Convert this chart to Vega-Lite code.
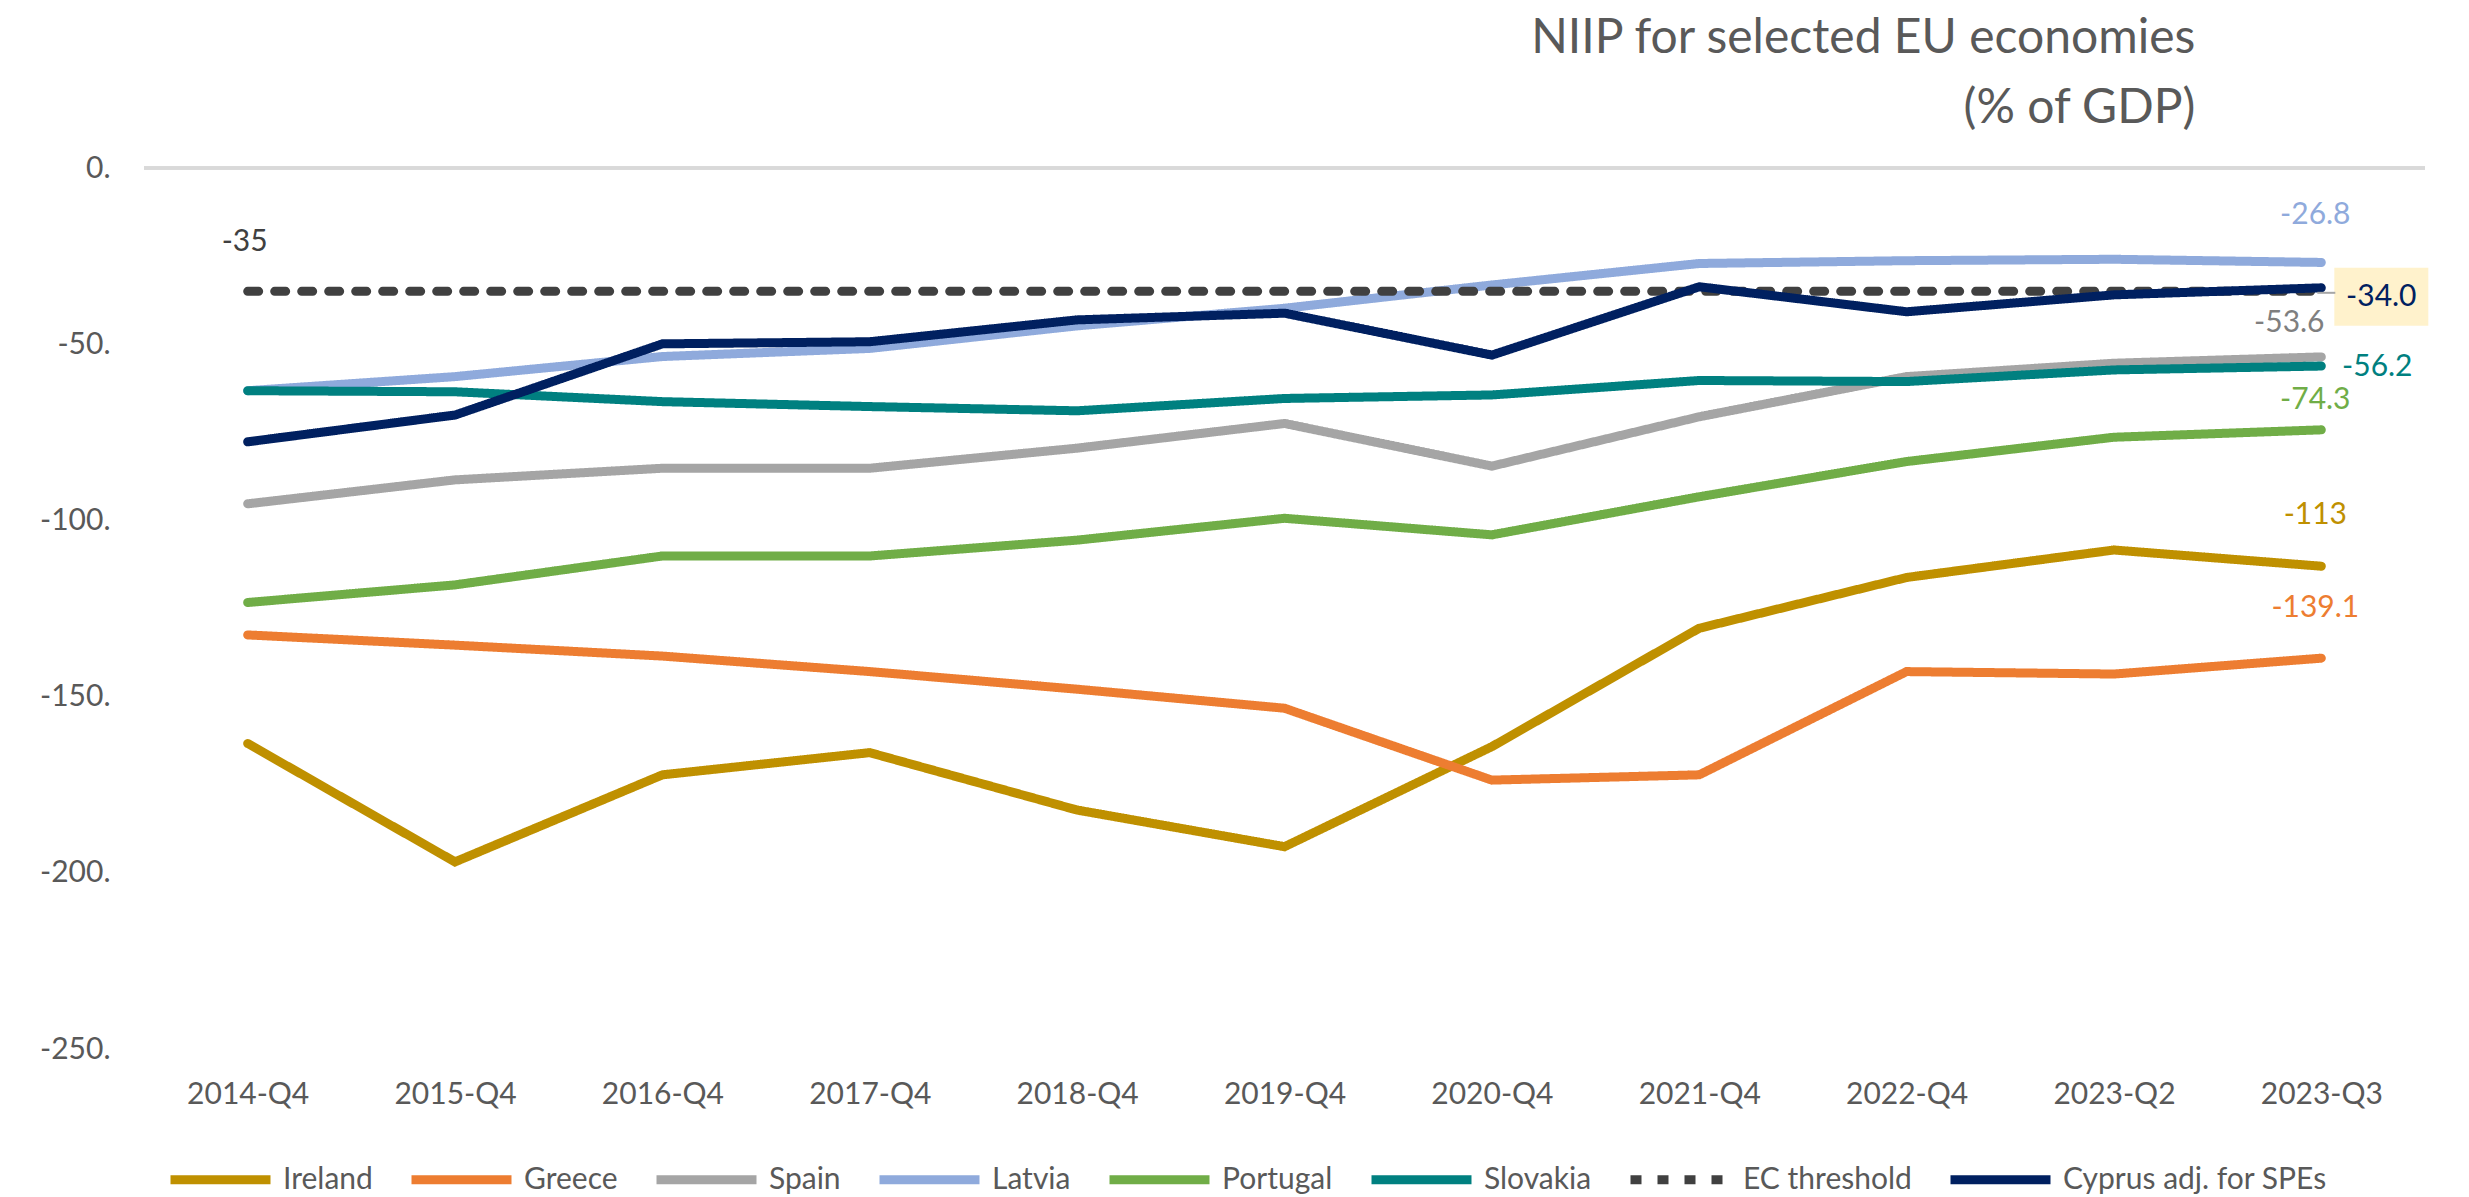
{
  "$schema": "https://vega.github.io/schema/vega-lite/v6.json",
  "width": 2281,
  "height": 881,
  "autosize": {"type": "none"},
  "padding": {"left": 144, "top": 168, "right": 44, "bottom": 148},
  "background": "white",
  "config": {
    "view": {"stroke": null},
    "font": "Lato, sans-serif",
    "legend": {
      "orient": "none",
      "legendX": 22,
      "legendY": 957,
      "direction": "horizontal",
      "columns": 8,
      "title": null,
      "labelFontSize": 30,
      "labelColor": "#595959",
      "labelOffset": 8,
      "labelLimit": 0,
      "columnPadding": 20,
      "symbolType": "stroke",
      "symbolSize": 10000,
      "symbolStrokeWidth": 9
    }
  },
  "title": {
    "text": ["NIIP for selected EU economies", "(% of GDP)"],
    "anchor": "end",
    "align": "right",
    "dx": -233,
    "fontSize": 48,
    "fontWeight": "normal",
    "color": "#595959",
    "lineHeight": 70,
    "offset": 20
  },
  "data": {
    "values": [
      {"period": "2014-Q4", "series": "Ireland", "value": -163.3},
      {"period": "2015-Q4", "series": "Ireland", "value": -196.9},
      {"period": "2016-Q4", "series": "Ireland", "value": -172.2},
      {"period": "2017-Q4", "series": "Ireland", "value": -165.9},
      {"period": "2018-Q4", "series": "Ireland", "value": -182.2},
      {"period": "2019-Q4", "series": "Ireland", "value": -192.6},
      {"period": "2020-Q4", "series": "Ireland", "value": -164.2},
      {"period": "2021-Q4", "series": "Ireland", "value": -130.6},
      {"period": "2022-Q4", "series": "Ireland", "value": -116.2},
      {"period": "2023-Q2", "series": "Ireland", "value": -108.4},
      {"period": "2023-Q3", "series": "Ireland", "value": -113.0},
      {"period": "2014-Q4", "series": "Greece", "value": -132.5},
      {"period": "2015-Q4", "series": "Greece", "value": -135.4},
      {"period": "2016-Q4", "series": "Greece", "value": -138.5},
      {"period": "2017-Q4", "series": "Greece", "value": -142.9},
      {"period": "2018-Q4", "series": "Greece", "value": -147.9},
      {"period": "2019-Q4", "series": "Greece", "value": -153.3},
      {"period": "2020-Q4", "series": "Greece", "value": -173.7},
      {"period": "2021-Q4", "series": "Greece", "value": -172.2},
      {"period": "2022-Q4", "series": "Greece", "value": -142.9},
      {"period": "2023-Q2", "series": "Greece", "value": -143.6},
      {"period": "2023-Q3", "series": "Greece", "value": -139.1},
      {"period": "2014-Q4", "series": "Spain", "value": -95.3},
      {"period": "2015-Q4", "series": "Spain", "value": -88.5},
      {"period": "2016-Q4", "series": "Spain", "value": -85.2},
      {"period": "2017-Q4", "series": "Spain", "value": -85.2},
      {"period": "2018-Q4", "series": "Spain", "value": -79.5},
      {"period": "2019-Q4", "series": "Spain", "value": -72.5},
      {"period": "2020-Q4", "series": "Spain", "value": -84.6},
      {"period": "2021-Q4", "series": "Spain", "value": -70.6},
      {"period": "2022-Q4", "series": "Spain", "value": -59.2},
      {"period": "2023-Q2", "series": "Spain", "value": -55.4},
      {"period": "2023-Q3", "series": "Spain", "value": -53.6},
      {"period": "2014-Q4", "series": "Latvia", "value": -63.2},
      {"period": "2015-Q4", "series": "Latvia", "value": -59.2},
      {"period": "2016-Q4", "series": "Latvia", "value": -53.5},
      {"period": "2017-Q4", "series": "Latvia", "value": -51.2},
      {"period": "2018-Q4", "series": "Latvia", "value": -44.8},
      {"period": "2019-Q4", "series": "Latvia", "value": -39.8},
      {"period": "2020-Q4", "series": "Latvia", "value": -33.2},
      {"period": "2021-Q4", "series": "Latvia", "value": -27.1},
      {"period": "2022-Q4", "series": "Latvia", "value": -26.3},
      {"period": "2023-Q2", "series": "Latvia", "value": -25.9},
      {"period": "2023-Q3", "series": "Latvia", "value": -26.8},
      {"period": "2014-Q4", "series": "Portugal", "value": -123.3},
      {"period": "2015-Q4", "series": "Portugal", "value": -118.3},
      {"period": "2016-Q4", "series": "Portugal", "value": -110.1},
      {"period": "2017-Q4", "series": "Portugal", "value": -110.1},
      {"period": "2018-Q4", "series": "Portugal", "value": -105.6},
      {"period": "2019-Q4", "series": "Portugal", "value": -99.4},
      {"period": "2020-Q4", "series": "Portugal", "value": -104.1},
      {"period": "2021-Q4", "series": "Portugal", "value": -93.3},
      {"period": "2022-Q4", "series": "Portugal", "value": -83.3},
      {"period": "2023-Q2", "series": "Portugal", "value": -76.4},
      {"period": "2023-Q3", "series": "Portugal", "value": -74.3},
      {"period": "2014-Q4", "series": "Slovakia", "value": -63.2},
      {"period": "2015-Q4", "series": "Slovakia", "value": -63.5},
      {"period": "2016-Q4", "series": "Slovakia", "value": -66.3},
      {"period": "2017-Q4", "series": "Slovakia", "value": -67.7},
      {"period": "2018-Q4", "series": "Slovakia", "value": -68.9},
      {"period": "2019-Q4", "series": "Slovakia", "value": -65.4},
      {"period": "2020-Q4", "series": "Slovakia", "value": -64.4},
      {"period": "2021-Q4", "series": "Slovakia", "value": -60.3},
      {"period": "2022-Q4", "series": "Slovakia", "value": -60.6},
      {"period": "2023-Q2", "series": "Slovakia", "value": -57.3},
      {"period": "2023-Q3", "series": "Slovakia", "value": -56.2},
      {"period": "2014-Q4", "series": "EC threshold", "value": -35},
      {"period": "2015-Q4", "series": "EC threshold", "value": -35},
      {"period": "2016-Q4", "series": "EC threshold", "value": -35},
      {"period": "2017-Q4", "series": "EC threshold", "value": -35},
      {"period": "2018-Q4", "series": "EC threshold", "value": -35},
      {"period": "2019-Q4", "series": "EC threshold", "value": -35},
      {"period": "2020-Q4", "series": "EC threshold", "value": -35},
      {"period": "2021-Q4", "series": "EC threshold", "value": -35},
      {"period": "2022-Q4", "series": "EC threshold", "value": -35},
      {"period": "2023-Q2", "series": "EC threshold", "value": -35},
      {"period": "2023-Q3", "series": "EC threshold", "value": -35},
      {"period": "2014-Q4", "series": "Cyprus adj. for SPEs", "value": -77.7},
      {"period": "2015-Q4", "series": "Cyprus adj. for SPEs", "value": -70.1},
      {"period": "2016-Q4", "series": "Cyprus adj. for SPEs", "value": -49.9},
      {"period": "2017-Q4", "series": "Cyprus adj. for SPEs", "value": -49.3},
      {"period": "2018-Q4", "series": "Cyprus adj. for SPEs", "value": -43.1},
      {"period": "2019-Q4", "series": "Cyprus adj. for SPEs", "value": -41.2},
      {"period": "2020-Q4", "series": "Cyprus adj. for SPEs", "value": -53.1},
      {"period": "2021-Q4", "series": "Cyprus adj. for SPEs", "value": -33.7},
      {"period": "2022-Q4", "series": "Cyprus adj. for SPEs", "value": -40.8},
      {"period": "2023-Q2", "series": "Cyprus adj. for SPEs", "value": -36.0},
      {"period": "2023-Q3", "series": "Cyprus adj. for SPEs", "value": -34.0}
    ]
  },
  "layer": [
    {
      "mark": {"type": "rule", "color": "#d9d9d9", "strokeWidth": 3},
      "encoding": {"y": {"datum": 0, "type": "quantitative"}}
    },
    {
      "encoding": {
        "x": {
          "field": "period",
          "type": "ordinal",
          "scale": {
            "type": "point",
            "padding": 0.5,
            "domain": ["2014-Q4", "2015-Q4", "2016-Q4", "2017-Q4", "2018-Q4", "2019-Q4", "2020-Q4", "2021-Q4", "2022-Q4", "2023-Q2", "2023-Q3"]
          },
          "axis": {
            "title": null,
            "domain": false,
            "ticks": false,
            "grid": false,
            "labelAngle": 0,
            "labelFontSize": 30,
            "labelColor": "#595959",
            "labelPadding": 30
          }
        },
        "y": {
          "field": "value",
          "type": "quantitative",
          "scale": {"domain": [-250, 0], "nice": false, "zero": false},
          "axis": {
            "title": null,
            "domain": false,
            "ticks": false,
            "grid": false,
            "values": [0, -50, -100, -150, -200, -250],
            "labelExpr": "datum.value + '.'",
            "labelFontSize": 30,
            "labelColor": "#595959",
            "labelPadding": 34
          }
        }
      },
      "layer": [
        {
          "mark": {"type": "line", "strokeWidth": 9, "strokeCap": "round"},
          "encoding": {
            "color": {
              "field": "series",
              "type": "nominal",
              "scale": {
                "domain": ["Ireland", "Greece", "Spain", "Latvia", "Portugal", "Slovakia", "EC threshold", "Cyprus adj. for SPEs"],
                "range": ["#bf9000", "#ed7d31", "#a5a5a5", "#8faadc", "#70ad47", "#008080", "#404040", "#002060"]
              }
            },
            "strokeDash": {
              "field": "series",
              "type": "nominal",
              "scale": {
                "domain": ["Ireland", "Greece", "Spain", "Latvia", "Portugal", "Slovakia", "EC threshold", "Cyprus adj. for SPEs"],
                "range": [[1, 0], [1, 0], [1, 0], [1, 0], [1, 0], [1, 0], [11, 16], [1, 0]]
              }
            }
          }
        },
        {
          "transform": [{"filter": "datum.series === 'Cyprus adj. for SPEs' && datum.period === '2023-Q3'"}],
          "mark": {
            "type": "point",
            "shape": "M-1,-0.617L1,-0.617L1,0.617L-1,0.617Z",
            "size": 8836,
            "filled": true,
            "fill": "#fff2cc",
            "opacity": 1,
            "strokeWidth": 0,
            "xOffset": 60,
            "yOffset": 9
          }
        },
        {
          "transform": [{"filter": "datum.series === 'Cyprus adj. for SPEs' && datum.period === '2023-Q3'"}],
          "mark": {"type": "rule", "color": "#a6a6a6", "strokeWidth": 2, "xOffset": -4, "x2Offset": 14, "yOffset": 5, "y2Offset": 5},
          "encoding": {"x2": {"field": "period"}, "y2": {"field": "value"}}
        },
        {
          "transform": [
            {"filter": "(datum.period === '2023-Q3' && datum.series !== 'EC threshold') || (datum.series === 'EC threshold' && datum.period === '2014-Q4')"},
            {"calculate": "datum.series === 'Ireland' || datum.series === 'EC threshold' ? format(datum.value, '.0f') : format(datum.value, '.1f')", "as": "label"},
            {"calculate": "replace(datum.label, '\u2212', '-')", "as": "label"}
          ],
          "layer": [
            {
              "transform": [{"filter": "datum.series === 'Latvia'"}],
              "mark": {"type": "text", "dx": -6, "dy": -47, "fontSize": 30, "fill": "#8faadc"},
              "encoding": {"text": {"field": "label"}}
            },
            {
              "transform": [{"filter": "datum.series === 'Cyprus adj. for SPEs'"}],
              "mark": {"type": "text", "dx": 60, "dy": 9, "fontSize": 30, "fill": "#002060"},
              "encoding": {"text": {"field": "label"}}
            },
            {
              "transform": [{"filter": "datum.series === 'Spain'"}],
              "mark": {"type": "text", "dx": -32, "dy": -34, "fontSize": 30, "fill": "#7f7f7f"},
              "encoding": {"text": {"field": "label"}}
            },
            {
              "transform": [{"filter": "datum.series === 'Slovakia'"}],
              "mark": {"type": "text", "dx": 56, "dy": 1, "fontSize": 30, "fill": "#008080"},
              "encoding": {"text": {"field": "label"}}
            },
            {
              "transform": [{"filter": "datum.series === 'Portugal'"}],
              "mark": {"type": "text", "dx": -6, "dy": -30, "fontSize": 30, "fill": "#70ad47"},
              "encoding": {"text": {"field": "label"}}
            },
            {
              "transform": [{"filter": "datum.series === 'Ireland'"}],
              "mark": {"type": "text", "dx": -6, "dy": -51, "fontSize": 30, "fill": "#bf9000"},
              "encoding": {"text": {"field": "label"}}
            },
            {
              "transform": [{"filter": "datum.series === 'Greece'"}],
              "mark": {"type": "text", "dx": -6, "dy": -50, "fontSize": 30, "fill": "#ed7d31"},
              "encoding": {"text": {"field": "label"}}
            },
            {
              "transform": [{"filter": "datum.series === 'EC threshold'"}],
              "mark": {"type": "text", "dx": -3, "dy": -49, "fontSize": 30, "fill": "#404040"},
              "encoding": {"text": {"field": "label"}}
            }
          ]
        }
      ]
    }
  ]
}
